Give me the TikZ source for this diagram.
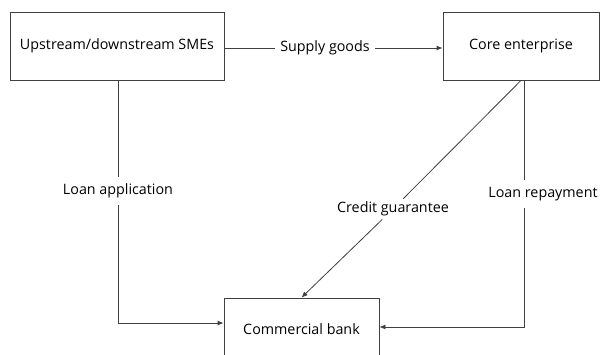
\documentclass[tikz,border=0pt]{standalone}
\usepackage{fontspec}
\setmainfont{Open Sans}
\usetikzlibrary{arrows.meta}
\begin{document}
\begin{tikzpicture}[x=1pt,y=-1pt,
  box/.style={draw=black!75,line width=0.8pt,minimum width=#1,inner sep=0pt,font=\fontsize{14.3}{16}\selectfont},
  lbl/.style={inner xsep=3pt,inner ysep=7pt,font=\fontsize{14.3}{16}\selectfont},
  conn/.style={draw=black!75,line width=0.8pt},
  arr/.style={conn,-{Latex[length=6pt,width=5pt]}}]
\useasboundingbox (0,0) rectangle (601,354);
\clip (0,0) rectangle (601,354);
\node[box=214pt,minimum height=68pt] (sme) at (117,46) {Upstream/downstream SMEs};
\node[box=156pt,minimum height=68pt] (core) at (521,46) {Core enterprise};
\node[box=155pt,minimum height=62pt] (bank) at (301.5,329) {Commercial bank};
\node[lbl,inner xsep=5pt] (sg) at (325,48) {Supply goods};
\node[lbl] (la) at (118,191) {Loan application};
\node[lbl] (lr) at (543,194) {Loan repayment};
\node[lbl,inner sep=3pt] (cg) at (393,209) {Credit guarantee};
\draw[conn] (sme.east |- sg.west) -- (sg.west);
\draw[arr] (sg.east) -- (core.west |- sg.east);
\draw[conn] ([xshift=1pt]sme.south) -- ([xshift=1pt]sme.south |- la.north);
\draw[arr] ([xshift=1pt]sme.south |- la.south) |- ([yshift=6pt]bank.west);
\draw[conn] ([xshift=3pt]core.south) -- ([xshift=3pt]core.south |- lr.north);
\draw[arr] ([xshift=3pt]core.south |- lr.south) |- ([yshift=2pt]bank.east);
\draw[conn] (core.south) -- (cg);
\draw[arr] (cg) -- (bank.north);
\end{tikzpicture}
\end{document}
